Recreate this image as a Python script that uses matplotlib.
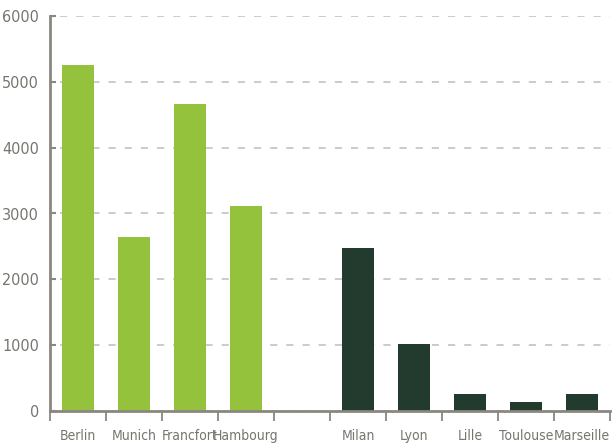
import numpy as np
import matplotlib
matplotlib.use('Agg')
from matplotlib import pyplot as plt

# office headcount per city
cities_de = ['Berlin', 'Munich', 'Francfort', 'Hambourg']
values_de = [5250, 2650, 4670, 3120]
cities_fr = ['Milan', 'Lyon', 'Lille', 'Toulouse', 'Marseille']
values_fr = [2480, 1020, 260, 140, 260]

green = '#94c23c'
dark = '#233b2f'
grey = '#8a8780'
text_grey = '#77756e'

plt.rcParams['font.family'] = ['DejaVu Sans']
plt.rcParams['font.stretch'] = 'condensed'

fig = plt.figure(figsize=(6.15, 4.48), dpi=100)
ax = fig.add_axes([50 / 615, 37 / 448, 560 / 615, 395 / 448])

# one empty slot between the two groups
x_de = np.arange(len(cities_de))
x_fr = np.arange(len(cities_fr)) + len(cities_de) + 1
n_slots = len(cities_de) + 1 + len(cities_fr)

ax.bar(x_de, values_de, width=0.57, color=green, zorder=3)
ax.bar(x_fr, values_fr, width=0.57, color=dark, zorder=3)

ax.set_xlim(-0.5, n_slots - 0.5)
ax.set_ylim(0, 6000)

# labels under the bars, tick marks between slots
ax.set_xticks(list(x_de) + list(x_fr))
ax.set_xticklabels(cities_de + cities_fr)
ax.set_xticks(np.arange(n_slots + 1) - 0.5, minor=True)
ax.tick_params(axis='x', which='major', length=0, pad=13,
               labelsize=10, labelcolor=text_grey)
ax.tick_params(axis='x', which='minor', length=7, width=1.3,
               color=grey, direction='out')

ax.set_yticks(np.arange(0, 6001, 1000))
ax.tick_params(axis='y', length=4, width=1.5, color=grey, direction='in',
               pad=8, labelsize=11.5, labelcolor=text_grey)

ax.yaxis.grid(True, color='#c4c3bd', linestyle=(-6, (4.3, 5.4)),
              linewidth=1.2, zorder=0)
ax.set_axisbelow(True)

for side in ['top', 'right']:
    ax.spines[side].set_visible(False)
ax.spines['left'].set_color(grey)
ax.spines['left'].set_linewidth(2)
ax.spines['bottom'].set_color(grey)
ax.spines['bottom'].set_linewidth(2)
ax.spines['bottom'].set_zorder(4)

fig.savefig('out.png', dpi=100)
